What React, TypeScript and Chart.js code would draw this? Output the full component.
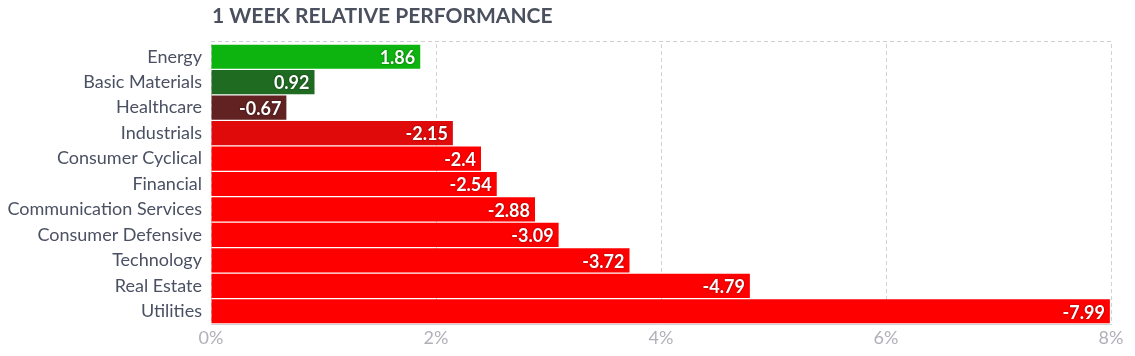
import React, { useEffect, useRef } from "react";
import { Chart, registerables } from "chart.js";

Chart.register(...registerables);

const title = "1 WEEK RELATIVE PERFORMANCE";
const categories = [
  "Energy",
  "Basic Materials",
  "Healthcare",
  "Industrials",
  "Consumer Cyclical",
  "Financial",
  "Communication Services",
  "Consumer Defensive",
  "Technology",
  "Real Estate",
  "Utilities",
];
const values = [1.86, 0.92, -0.67, -2.15, -2.4, -2.54, -2.88, -3.09, -3.72, -4.79, -7.99];
const barColors = [
  "#0db40f",
  "#1f6b21",
  "#622222",
  "#e10a0a",
  "#ff0000",
  "#ff0000",
  "#ff0000",
  "#ff0000",
  "#ff0000",
  "#ff0000",
  "#ff0000",
];
const xTicks = [0, 2, 4, 6, 8];

const FONT = "Lato, 'Open Sans', sans-serif";

export default function App() {
  const ref = useRef<HTMLCanvasElement | null>(null);

  useEffect(() => {
    document.body.style.margin = "0";
    const canvas = ref.current;
    if (!canvas) return;

    const decor = {
      id: "decor",
      beforeDatasetsDraw(chart: any) {
        const { ctx, chartArea } = chart;
        ctx.save();
        ctx.strokeStyle = "#cfcfd4";
        ctx.lineWidth = 1;
        ctx.setLineDash([4, 3]);
        ctx.beginPath();
        ctx.moveTo(chartArea.left, 41.5);
        ctx.lineTo(chartArea.right, 41.5);
        ctx.stroke();
        ctx.restore();
      },
      afterDatasetsDraw(chart: any) {
        const { ctx, chartArea } = chart;
        ctx.save();
        ctx.font = `bold 21px ${FONT}`;
        ctx.fillStyle = "#4b505e";
        ctx.textAlign = "left";
        ctx.textBaseline = "middle";
        ctx.fillText(title, chartArea.left + 1, 16);
        const meta = chart.getDatasetMeta(0);
        ctx.font = `bold 18px ${FONT}`;
        ctx.textAlign = "right";
        ctx.textBaseline = "middle";
        ctx.fillStyle = "#ffffff";
        ctx.shadowColor = "rgba(0,0,0,0.55)";
        ctx.shadowBlur = 2;
        meta.data.forEach((bar: any, i: number) => {
          ctx.fillText(String(values[i]), bar.x - 5, bar.y + 1.5);
        });
        ctx.restore();
      },
    };

    const chart = new Chart(canvas, {
      type: "bar",
      data: {
        labels: categories,
        datasets: [
          {
            data: values.map((v) => Math.abs(v)),
            backgroundColor: barColors,
            barPercentage: 0.95,
            categoryPercentage: 1,
          },
        ],
      },
      options: {
        indexAxis: "y",
        animation: false,
        responsive: false,
        maintainAspectRatio: false,
        layout: { padding: { top: 44, right: 24, left: 0, bottom: 0 } },
        plugins: {
          legend: { display: false },
          tooltip: { enabled: false },
          title: { display: false },
        },
        scales: {
          x: {
            min: 0,
            max: 8,
            afterFit: (s: any) => {
              s.height = 32;
            },
            afterBuildTicks: (s: any) => {
              s.ticks = xTicks.map((v) => ({ value: v }));
            },
            ticks: {
              callback: (v: any) => `${v}%`,
              font: { family: FONT, size: 18, weight: "normal" },
              color: "#b0b0b8",
              padding: 3,
            },
            grid: {
              color: "#d2d2d6",
              drawTicks: false,
              tickLength: 0,
            },
            border: { display: true, dash: [4, 3], color: "#d2d2d6" },
          },
          y: {
            afterFit: (s: any) => {
              s.width = 211;
            },
            ticks: {
              font: { family: FONT, size: 18 },
              color: "#4a5163",
              padding: 9,
              autoSkip: false,
            },
            grid: { display: false, drawTicks: false },
            border: { display: false },
          },
        },
      },
      plugins: [decor],
    } as any);

    (chart.options.scales as any).x.grid.borderDash = [4, 3];
    (chart.options.scales as any).x.border.dash = [4, 3];
    (chart.options.scales as any).x.grid.tickBorderDash = [4, 3];
    chart.update();

    return () => chart.destroy();
  }, []);

  return <canvas ref={ref} width={1135} height={356} style={{ display: "block" }} />;
}
